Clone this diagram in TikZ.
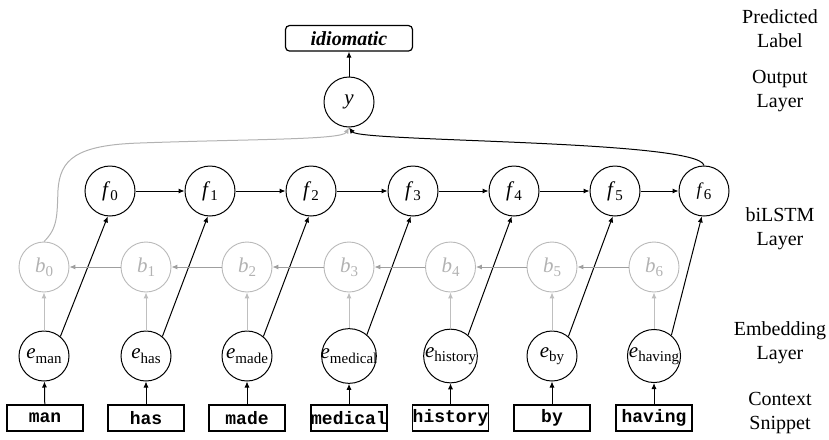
\documentclass[tikz,border=0pt]{standalone}
\usepackage{fontspec}
\setmainfont{Liberation Serif}
\setmonofont{Liberation Mono}
\usetikzlibrary{arrows.meta}
\newcommand\vsub[2]{\textit{#1}\raisebox{-0.45ex}{\fontsize{7.5}{8}\selectfont #2}}
\tikzset{
  unit/.style={circle, draw, line width=0.5pt, minimum size=25pt, inner sep=0pt, font=\fontsize{10.5}{12}\selectfont},
  bunit/.style={unit, draw=gray!55, text=gray!60, line width=0.45pt},
  word/.style={draw, line width=0.6pt, minimum width=38pt, minimum height=13pt, inner sep=0pt, font=\fontsize{9}{10}\ttfamily\bfseries},
  lab/.style={align=center, font=\fontsize{10}{12}\selectfont},
  arr/.style={-{Latex[length=3pt,width=2.6pt]}, line width=0.5pt},
  garr/.style={arr, draw=gray!75},
  lgarr/.style={arr, draw=gray!50},
}
\begin{document}
\begin{tikzpicture}[x=0.5pt, y=-0.5pt]
\useasboundingbox (0,0) rectangle (829,439);
% label column
\node[lab] (l1) at (780,28.5) {Predicted\\Label};
\node[lab] (l2) at (780,91.5) {Output\\Layer};
\node[lab] (l3) at (780,228.5) {biLSTM\\Layer};
\node[lab] (l4) at (780,343) {Embedding\\Layer};
\node[lab] (l5) at (780,413) {Context\\Snippet};
% output
\node[draw, rounded corners=2pt, line width=0.6pt, minimum width=63.5pt, minimum height=12.75pt, inner sep=0pt, font=\fontsize{10}{12}\selectfont\bfseries\itshape] (pl) at (349,38.3) {idiomatic};
\node[unit] (y) at (349,102) {\textit{y}};
\draw[arr] (y) -- (pl);
% forward units
\node[unit] (f0) at (110,191) {\vsub{f}{0}};
\node[unit] (f1) at (210,191) {\vsub{f}{1}};
\node[unit] (f2) at (311,191) {\vsub{f}{2}};
\node[unit] (f3) at (413,191) {\vsub{f}{3}};
\node[unit] (f4) at (514,191) {\vsub{f}{4}};
\node[unit] (f5) at (615,191) {\vsub{f}{5}};
\node[unit, font=\fontsize{9}{10}\selectfont] (f6) at (704,191) {\vsub{f}{6}};
% backward units
\foreach \i/\x in {0/44,1/146,2/247,3/349,4/450.5,5/552,6/654}{
  \node[bunit] (b\i) at (\x,267) {\vsub{b}{\i}};
}
% embeddings
\node[unit] (e0) at (44,356) {\vsub{e}{man}};
\node[unit] (e1) at (146,356) {\vsub{e}{has}};
\node[unit] (e2) at (247,356) {\vsub{e}{made}};
\node[unit] (e3) at (349,356) {\hspace*{-1pt}\vsub{e}{medical}\hspace*{-1pt}};
\node[unit] (e4) at (450.5,356) {\vsub{e}{history}};
\node[unit] (e5) at (552,356) {\vsub{e}{by}};
\node[unit] (e6) at (654,356) {\vsub{e}{having}};
% words
\node[word] (w0) at (45,418) {man};
\node[word] (w1) at (146,418) {has};
\node[word] (w2) at (247,418) {made};
\node[word] (w3) at (349,418) {medical};
\node[word] (w4) at (450.5,418) {history};
\node[word] (w5) at (552,418) {by};
\node[word] (w6) at (654,418) {having};
% connections
\foreach \i in {0,...,6}{
  \draw[arr] (w\i) -- (e\i);
  \draw[lgarr] (e\i) -- (b\i);
  \draw[arr] (e\i.50) -- (f\i.265);
}
\foreach \i/\j in {0/1,1/2,2/3,3/4,4/5,5/6}{
  \draw[arr] (f\i) -- (f\j);
  \draw[garr] (b\j) -- (b\i);
}
\draw[arr, draw=gray!60] (b0.north) .. controls (58,228) and (57,215) .. (58,190)
  .. controls (60,160) and (75,145) .. (140,143)
  .. controls (250,139) and (342,140) .. (y.south);
\draw[arr] (f6.north) .. controls (700,140) and (360,142) .. (y.south);
\end{tikzpicture}
\end{document}
